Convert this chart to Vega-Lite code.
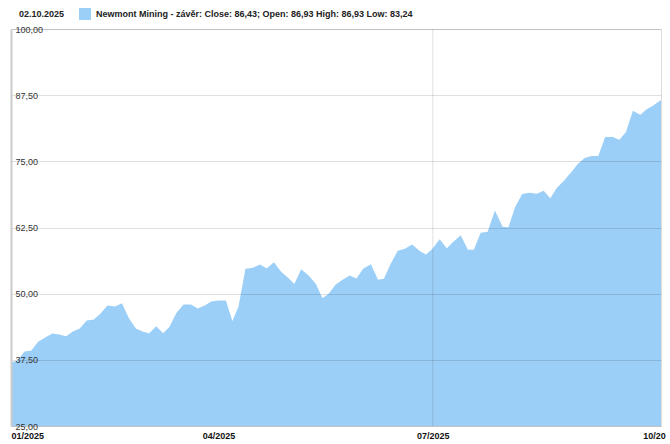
{
  "$schema": "https://vega.github.io/schema/vega-lite/v6.json",
  "width": 650,
  "height": 397,
  "autosize": {"type": "none"},
  "padding": {"left": 11, "top": 29, "right": 9, "bottom": 18},
  "background": "#ffffff",
  "config": {
    "font": "Liberation Sans",
    "view": {"stroke": "#dddddd", "strokeWidth": 1}
  },
  "data": {
    "values": [
      {"date": "2025-01-02", "close": 36.87},
      {"date": "2025-01-06", "close": 37.25},
      {"date": "2025-01-08", "close": 38.94},
      {"date": "2025-01-14", "close": 39.13},
      {"date": "2025-01-16", "close": 40.83},
      {"date": "2025-01-21", "close": 41.58},
      {"date": "2025-01-23", "close": 42.34},
      {"date": "2025-01-27", "close": 42.15},
      {"date": "2025-01-29", "close": 41.77},
      {"date": "2025-01-31", "close": 42.71},
      {"date": "2025-02-03", "close": 43.28},
      {"date": "2025-02-05", "close": 44.79},
      {"date": "2025-02-07", "close": 44.97},
      {"date": "2025-02-11", "close": 46.11},
      {"date": "2025-02-13", "close": 47.61},
      {"date": "2025-02-18", "close": 47.42},
      {"date": "2025-02-20", "close": 47.99},
      {"date": "2025-02-24", "close": 45.16},
      {"date": "2025-02-26", "close": 43.28},
      {"date": "2025-02-28", "close": 42.71},
      {"date": "2025-03-04", "close": 42.34},
      {"date": "2025-03-06", "close": 43.66},
      {"date": "2025-03-10", "close": 42.34},
      {"date": "2025-03-12", "close": 43.66},
      {"date": "2025-03-14", "close": 46.29},
      {"date": "2025-03-18", "close": 47.80},
      {"date": "2025-03-20", "close": 47.80},
      {"date": "2025-03-24", "close": 47.05},
      {"date": "2025-03-26", "close": 47.61},
      {"date": "2025-03-28", "close": 48.37},
      {"date": "2025-04-01", "close": 48.56},
      {"date": "2025-04-03", "close": 48.56},
      {"date": "2025-04-07", "close": 44.41},
      {"date": "2025-04-09", "close": 47.50},
      {"date": "2025-04-11", "close": 54.59},
      {"date": "2025-04-15", "close": 54.77},
      {"date": "2025-04-17", "close": 55.34},
      {"date": "2025-04-22", "close": 54.59},
      {"date": "2025-04-24", "close": 55.72},
      {"date": "2025-04-28", "close": 54.02},
      {"date": "2025-04-30", "close": 52.89},
      {"date": "2025-05-02", "close": 51.57},
      {"date": "2025-05-06", "close": 54.40},
      {"date": "2025-05-08", "close": 53.27},
      {"date": "2025-05-12", "close": 51.76},
      {"date": "2025-05-14", "close": 48.93},
      {"date": "2025-05-16", "close": 49.87},
      {"date": "2025-05-20", "close": 51.57},
      {"date": "2025-05-22", "close": 52.51},
      {"date": "2025-05-27", "close": 53.27},
      {"date": "2025-05-29", "close": 52.70},
      {"date": "2025-06-02", "close": 54.59},
      {"date": "2025-06-04", "close": 55.34},
      {"date": "2025-06-06", "close": 52.51},
      {"date": "2025-06-10", "close": 52.70},
      {"date": "2025-06-12", "close": 55.53},
      {"date": "2025-06-16", "close": 57.98},
      {"date": "2025-06-18", "close": 58.35},
      {"date": "2025-06-23", "close": 59.11},
      {"date": "2025-06-25", "close": 57.98},
      {"date": "2025-06-27", "close": 57.22},
      {"date": "2025-07-01", "close": 58.35},
      {"date": "2025-07-03", "close": 60.05},
      {"date": "2025-07-08", "close": 58.35},
      {"date": "2025-07-10", "close": 59.67},
      {"date": "2025-07-14", "close": 60.80},
      {"date": "2025-07-16", "close": 58.17},
      {"date": "2025-07-18", "close": 58.17},
      {"date": "2025-07-22", "close": 61.37},
      {"date": "2025-07-24", "close": 61.56},
      {"date": "2025-07-28", "close": 65.33},
      {"date": "2025-07-30", "close": 62.56},
      {"date": "2025-08-01", "close": 62.37},
      {"date": "2025-08-05", "close": 66.33},
      {"date": "2025-08-07", "close": 68.72},
      {"date": "2025-08-11", "close": 68.91},
      {"date": "2025-08-13", "close": 68.72},
      {"date": "2025-08-15", "close": 69.29},
      {"date": "2025-08-19", "close": 67.78},
      {"date": "2025-08-21", "close": 69.85},
      {"date": "2025-08-25", "close": 71.17},
      {"date": "2025-08-27", "close": 72.68},
      {"date": "2025-08-29", "close": 74.37},
      {"date": "2025-09-03", "close": 75.50},
      {"date": "2025-09-05", "close": 75.88},
      {"date": "2025-09-09", "close": 75.88},
      {"date": "2025-09-11", "close": 79.46},
      {"date": "2025-09-15", "close": 79.46},
      {"date": "2025-09-17", "close": 78.89},
      {"date": "2025-09-19", "close": 80.40},
      {"date": "2025-09-23", "close": 84.36},
      {"date": "2025-09-25", "close": 83.61},
      {"date": "2025-09-29", "close": 84.74},
      {"date": "2025-10-01", "close": 85.49},
      {"date": "2025-10-02", "close": 86.43}
    ]
  },
  "layer": [
    {
      "mark": {
        "type": "area",
        "clip": true,
        "opacity": 1,
        "fillOpacity": 1,
        "line": {"color": "#6aaee8", "strokeWidth": 1.5, "opacity": 1},
        "interpolate": "linear"
      },
      "encoding": {
        "x": {
          "field": "date",
          "type": "ordinal",
          "scale": {"type": "point", "padding": 0},
          "axis": {
            "title": null,
            "values": ["2025-01-02", "2025-04-01", "2025-07-01", "2025-10-01"],
            "labelExpr": "datum.value == '2025-10-01' ? '10/20' : substring(datum.value, 5, 7) + '/' + substring(datum.value, 0, 4)",
            "labelAngle": 0,
            "labelAlign": {"condition": {"test": "datum.value == '2025-01-02'", "value": "left"}, "value": "center"},
            "labelFontSize": 9,
            "labelFontWeight": "bold",
            "labelColor": "#111111",
            "labelPadding": 5,
            "labelOverlap": false,
            "labelBound": false,
            "labelFlush": false,
            "ticks": false,
            "tickSize": 0,
            "domain": false,
            "grid": false,
            "zindex": 1
          }
        },
        "y": {
          "field": "close",
          "type": "quantitative",
          "scale": {"domain": [25, 100], "nice": false, "zero": false},
          "axis": {
            "title": null,
            "values": [25, 37.5, 50, 62.5, 75, 87.5, 100],
            "labelExpr": "replace(format(datum.value, '.2f'), '.', ',')",
            "labelAlign": "left",
            "labelBaseline": "middle",
            "labelPadding": -4,
            "labelFontSize": 9,
            "labelColor": "#333333",
            "labelFlush": false,
            "labelOverlap": false,
            "labelBound": false,
            "ticks": false,
            "tickSize": 0,
            "domain": true,
            "domainColor": "#cccccc",
            "domainWidth": 2,
            "grid": true,
            "gridColor": "#000000",
            "gridOpacity": 0.12,
            "zindex": 1
          }
        },
        "color": {
          "datum": "Newmont Mining - závěr: Close: 86,43; Open: 86,93 High: 86,93 Low: 83,24",
          "type": "nominal",
          "scale": {"range": ["#9ccff7"]},
          "legend": {
            "title": "02.10.2025",
            "titleOrient": "left",
            "titleFontSize": 9,
            "titleFontWeight": "bold",
            "titleColor": "#222222",
            "titlePadding": 14,
            "titleBaseline": "middle",
            "titleAnchor": "middle",
            "orient": "none",
            "legendX": 8,
            "legendY": -21,
            "padding": 0,
            "symbolType": "square",
            "symbolSize": 144,
            "symbolStrokeWidth": 0,
            "symbolOpacity": 1,
            "labelFontSize": 9,
            "labelFontWeight": "bold",
            "labelColor": "#222222",
            "labelLimit": 600,
            "labelOffset": 5
          }
        }
      }
    },
    {
      "data": {"values": [{"date": "2025-07-01"}]},
      "mark": {"type": "rule", "color": "#000000", "strokeOpacity": 0.12, "strokeWidth": 1},
      "encoding": {
        "x": {"field": "date", "type": "ordinal"}
      }
    }
  ]
}
